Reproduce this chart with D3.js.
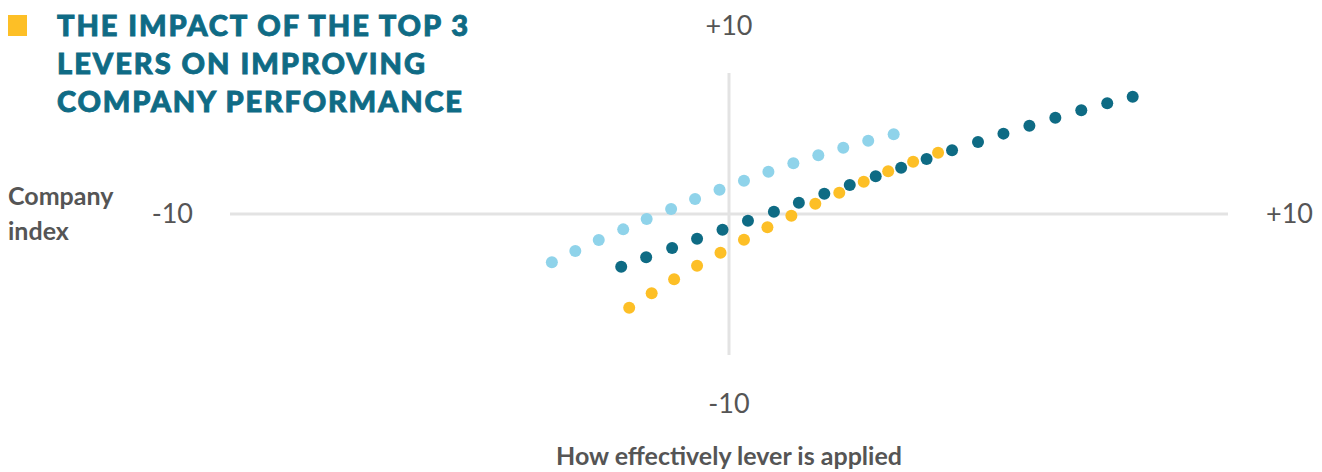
<!DOCTYPE html>
<html>
<head>
<meta charset="utf-8">
<script src="https://cdnjs.cloudflare.com/ajax/libs/d3/7.8.5/d3.min.js"></script>
<style>
  body { margin: 0; background: #fff; }
  svg { display: block; }
</style>
</head>
<body>
<script>
// chart size
var W = 1322, H = 472;

// ---- data ----
var titleLines = ["THE IMPACT OF THE TOP 3", "LEVERS ON IMPROVING", "COMPANY PERFORMANCE"];
var axisTicks = { top: "+10", bottom: "-10", left: "-10", right: "+10" };

var lightX = [-3.55, -3.08, -2.61, -2.12, -1.65, -1.16, -0.68, -0.19, 0.30, 0.79, 1.29, 1.79, 2.29, 2.79, 3.30];
var lightY = [-3.43, -2.62, -1.84, -1.09, -0.35, 0.35, 1.06, 1.72, 2.36, 3.00, 3.60, 4.16, 4.70, 5.20, 5.65];

var tealX = [-2.16, -1.66, -1.14, -0.64, -0.13, 0.38, 0.90, 1.40, 1.91, 2.42, 2.94, 3.45, 3.96, 4.47, 4.99, 5.50, 6.02, 6.54, 7.06, 7.58, 8.09];
var tealY = [-3.74, -3.07, -2.41, -1.75, -1.11, -0.48, 0.16, 0.80, 1.43, 2.06, 2.67, 3.28, 3.90, 4.52, 5.11, 5.70, 6.26, 6.83, 7.35, 7.85, 8.32];

var yellowX = [-2.00, -1.55, -1.10, -0.64, -0.17, 0.30, 0.77, 1.25, 1.73, 2.21, 2.70, 3.19, 3.69, 4.19];
var yellowY = [-6.65, -5.62, -4.63, -3.67, -2.74, -1.82, -0.94, -0.12, 0.72, 1.51, 2.29, 3.03, 3.71, 4.35];

var series = [
  { xs: lightX, ys: lightY, color: "#8fd3ea" },
  { xs: tealX, ys: tealY, color: "#0e6b84" },
  { xs: yellowX, ys: yellowY, color: "#fdbf26" }
];

var svg = d3.select("body").append("svg")
  .attr("width", W)
  .attr("height", H)
  .style("font-family", "Lato, 'Open Sans', sans-serif");

// scales: the plot is a cross centred on (0,0)
var x = d3.scaleLinear().domain([-10, 10]).range([230, 1228]);
var y = d3.scaleLinear().domain([-10, 10]).range([355, 73]);

// axis lines
var axisColor = "#e3e3e3";
svg.append("line")
  .attr("x1", x(-10)).attr("x2", x(10))
  .attr("y1", y(0)).attr("y2", y(0))
  .attr("stroke", axisColor).attr("stroke-width", 3);
svg.append("line")
  .attr("x1", x(0)).attr("x2", x(0))
  .attr("y1", y(-10)).attr("y2", y(10))
  .attr("stroke", axisColor).attr("stroke-width", 3);

// end labels
var tickStyle = function(sel) {
  sel.attr("font-size", 27).attr("fill", "#555");
};
svg.append("text").text(axisTicks.top)
  .attr("x", x(0)).attr("y", 35).attr("text-anchor", "middle").call(tickStyle);
svg.append("text").text(axisTicks.bottom)
  .attr("x", x(0)).attr("y", 413).attr("text-anchor", "middle").call(tickStyle);
svg.append("text").text(axisTicks.left)
  .attr("x", 193).attr("y", 223).attr("text-anchor", "end").call(tickStyle);
svg.append("text").text(axisTicks.right)
  .attr("x", 1266).attr("y", 223).call(tickStyle);

// axis titles
svg.append("text")
  .attr("x", 8).attr("y", 205)
  .attr("font-size", 25).attr("font-weight", "bold").attr("fill", "#555")
  .text("Company");
svg.append("text")
  .attr("x", 8).attr("y", 240)
  .attr("font-size", 25).attr("font-weight", "bold").attr("fill", "#555")
  .text("index");
svg.append("text")
  .attr("x", x(0)).attr("y", 465)
  .attr("text-anchor", "middle")
  .attr("font-size", 25).attr("font-weight", "bold").attr("fill", "#555")
  .text("How effectively lever is applied");

// title with the yellow marker
svg.append("rect")
  .attr("x", 8).attr("y", 15)
  .attr("width", 19).attr("height", 21)
  .attr("fill", "#fdbf26");

var titleWidths = [411, 368, 405];
svg.selectAll("text.title")
  .data(titleLines)
  .enter()
  .append("text")
  .attr("class", "title")
  .attr("x", 57)
  .attr("y", function(d, i) { return 36 + i * 38; })
  .attr("font-size", 29)
  .attr("font-weight", 900)
  .attr("fill", "#0f6b85")
  .attr("stroke", "#0f6b85")
  .attr("stroke-width", 0.9)
  .attr("textLength", function(d, i) { return titleWidths[i]; })
  .attr("lengthAdjust", "spacing")
  .text(function(d) { return d; });

// dots
series.forEach(function(s) {
  var pts = s.xs.map(function(v, i) { return [v, s.ys[i]]; });
  svg.append("g")
    .selectAll("circle")
    .data(pts)
    .enter()
    .append("circle")
    .attr("cx", function(d) { return x(d[0]); })
    .attr("cy", function(d) { return y(d[1]); })
    .attr("r", 6)
    .attr("fill", s.color);
});
</script>
</body>
</html>
